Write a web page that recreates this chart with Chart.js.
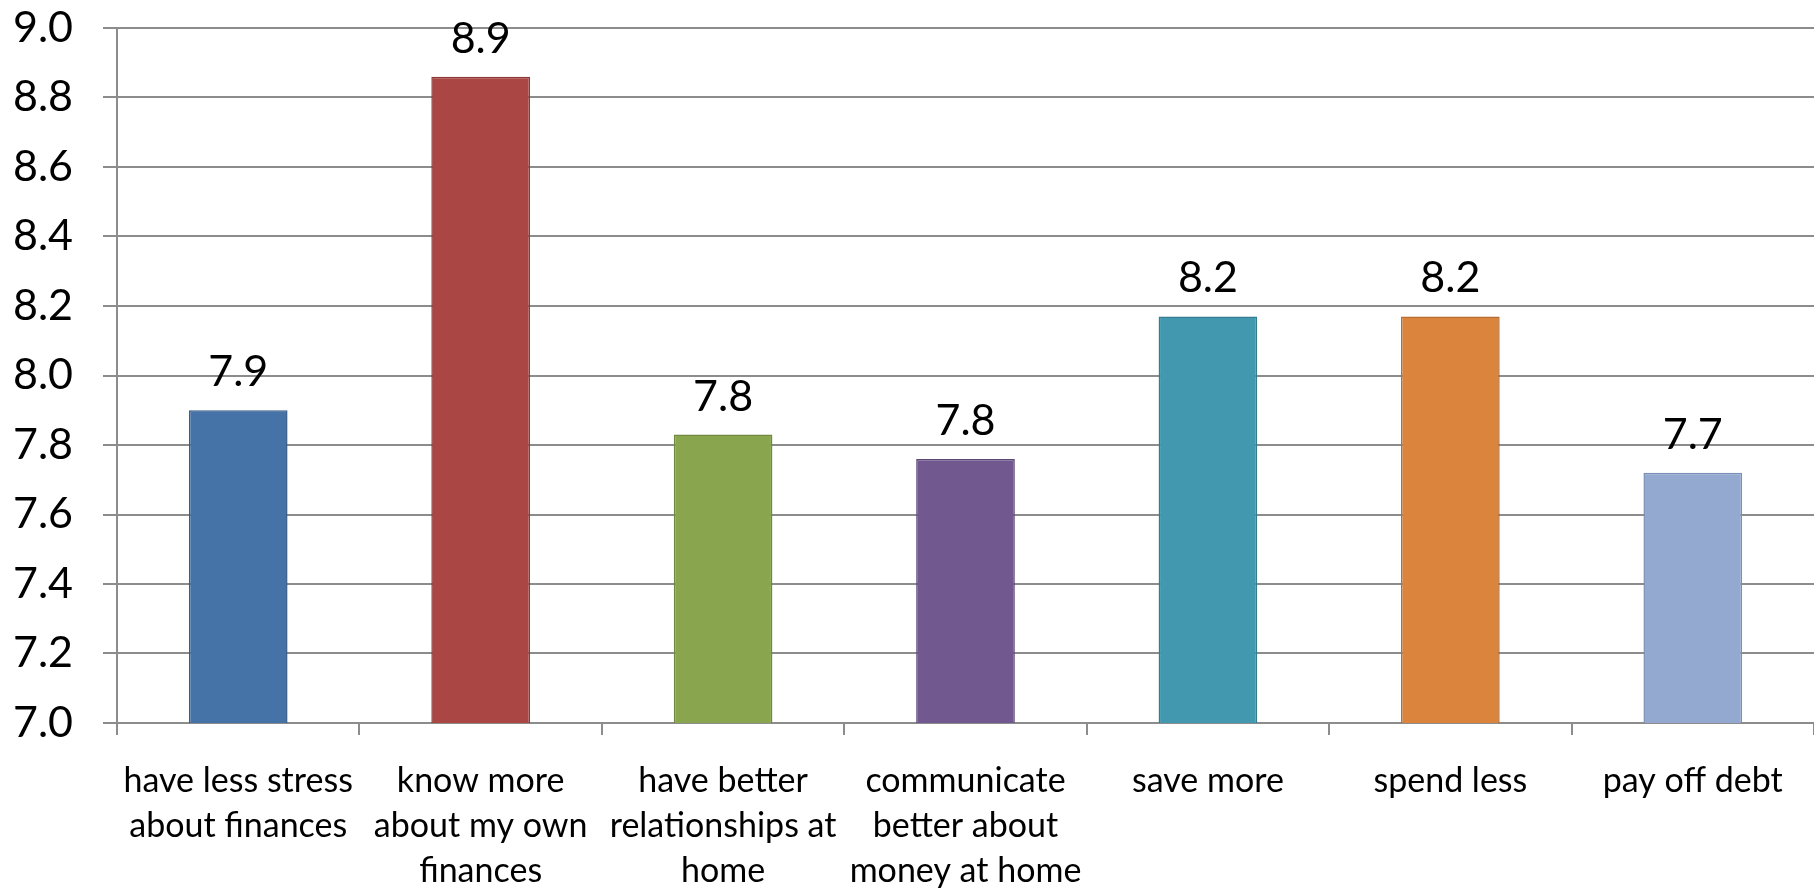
<!DOCTYPE html>
<html>
<head>
<meta charset="utf-8">
<script src="https://cdn.jsdelivr.net/npm/chart.js@4"></script>
<style>
  html, body { margin: 0; padding: 0; background: #fff; }
  #wrap { width: 1814px; height: 890px; }
</style>
</head>
<body>
<div id="wrap"><canvas id="chart"></canvas></div>
<script>
// Data
const categories = [
    ['have less stress', 'about finances'],
    ['know more', 'about my own', 'finances'],
    ['have better', 'relationships at', 'home'],
    ['communicate', 'better about', 'money at home'],
    'save more',
    'spend less',
    'pay off debt'
];
const scores = [7.90, 8.86, 7.83, 7.76, 8.17, 8.17, 7.72];
const barColors = ['#4572A7', '#AA4643', '#89A54E', '#71588F', '#4198AF', '#DB843D', '#93A9CF'];
const barBorders = ['#385d8a', '#8c3836', '#71893f', '#5c4776', '#357d91', '#b66d31', '#7a8fb5'];
const yTicks = [7.0, 7.2, 7.4, 7.6, 7.8, 8.0, 8.2, 8.4, 8.6, 8.8, 9.0];

const fontFamily = 'Lato, "Noto Sans", sans-serif';

// Value labels above bars
const valueLabels = {
    id: 'valueLabels',
    afterDatasetsDraw(chart) {
        const ctx = chart.ctx;
        const meta = chart.getDatasetMeta(0);
        ctx.save();
        ctx.font = '43px ' + fontFamily;
        ctx.fillStyle = '#000';
        ctx.textAlign = 'center';
        ctx.textBaseline = 'alphabetic';
        meta.data.forEach(function (bar, i) {
            ctx.fillText(scores[i].toFixed(1), bar.x, bar.y - 24);
        });
        ctx.restore();
    }
};

new Chart(document.getElementById('chart'), {
    type: 'bar',
    data: {
        labels: categories,
        datasets: [{
            data: scores,
            backgroundColor: barColors,
            borderColor: barBorders,
            borderWidth: 1.5,
            categoryPercentage: 1,
            barPercentage: 0.407
        }]
    },
    options: {
        responsive: true,
        maintainAspectRatio: false,
        animation: false,
        layout: { padding: { top: 28, right: 0, left: 0, bottom: 0 } },
        plugins: {
            legend: { display: false },
            tooltip: { enabled: false }
        },
        scales: {
            x: {
                offset: true,
                grid: {
                    offset: true,
                    drawOnChartArea: false,
                    color: '#8c8c8c',
                    lineWidth: 2,
                    tickLength: 12
                },
                border: { color: '#8c8c8c', width: 2 },
                ticks: {
                    color: '#000',
                    padding: 24,
                    maxRotation: 0,
                    autoSkip: false,
                    font: { family: fontFamily, size: 34, lineHeight: 1.32 }
                },
                afterFit(scale) { scale.height = 167; }
            },
            y: {
                min: 7.0,
                max: 9.0,
                afterBuildTicks(scale) {
                    scale.ticks = yTicks.map(function (v) { return { value: v }; });
                },
                grid: {
                    color: '#8c8c8c',
                    lineWidth: 2,
                    tickLength: 14
                },
                border: { color: '#8c8c8c', width: 2 },
                ticks: {
                    color: '#000',
                    padding: 30,
                    font: { family: fontFamily, size: 43 },
                    callback: function (v) { return Number(v).toFixed(1); }
                },
                afterFit(scale) {
                    scale.width = 117;
                    scale.paddingTop = 0;
                    scale.paddingBottom = 0;
                }
            }
        }
    },
    plugins: [valueLabels]
});
</script>
</body>
</html>
